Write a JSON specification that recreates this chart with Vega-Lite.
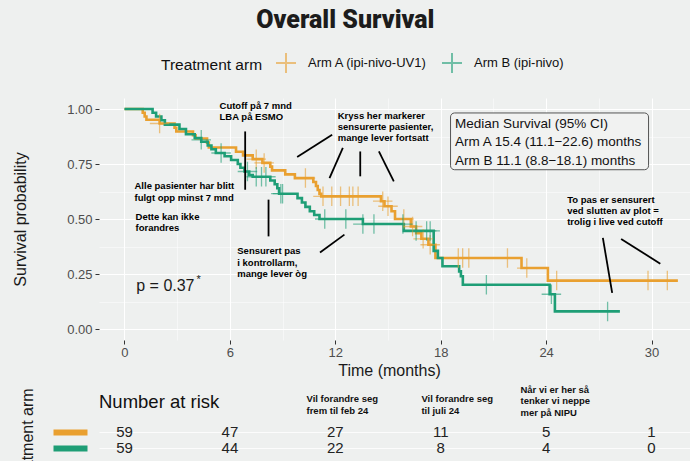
{
  "$schema": "https://vega.github.io/schema/vega-lite/v6.json",
  "background": "#EEF0EF",
  "padding": {"left": 12, "top": 8, "right": 0, "bottom": 0},
  "title": {"text": "Overall Survival", "font": "Roboto", "fontSize": 25, "fontWeight": 900, "color": "#1c1c1c", "anchor": "middle", "offset": 19, "dx": -6},
  "config": {
    "font": "Liberation Sans",
    "view": {"stroke": null},
    "axis": {"labelFont": "Liberation Sans", "titleFont": "Liberation Sans", "titleFontWeight": "normal"}
  },
  "datasets": {
    "km": [
      {"arm":"A","t":0,"surv":1},{"arm":"A","t":1.04,"surv":0.983},{"arm":"A","t":1.15,"surv":0.966},{"arm":"A","t":1.25,"surv":0.951},
      {"arm":"A","t":2.0,"surv":0.934},{"arm":"A","t":2.85,"surv":0.915},{"arm":"A","t":2.95,"surv":0.898},{"arm":"A","t":3.9,"surv":0.881},
      {"arm":"A","t":4.05,"surv":0.866},{"arm":"A","t":4.7,"surv":0.847},{"arm":"A","t":4.8,"surv":0.825},{"arm":"A","t":6.35,"surv":0.806},
      {"arm":"A","t":6.75,"surv":0.789},{"arm":"A","t":7.3,"surv":0.772},{"arm":"A","t":7.85,"surv":0.755},{"arm":"A","t":8.3,"surv":0.738},
      {"arm":"A","t":8.4,"surv":0.721},{"arm":"A","t":9.15,"surv":0.703},{"arm":"A","t":9.7,"surv":0.686},{"arm":"A","t":10.75,"surv":0.668},
      {"arm":"A","t":10.9,"surv":0.65},{"arm":"A","t":11.0,"surv":0.632},{"arm":"A","t":11.1,"surv":0.614},{"arm":"A","t":11.2,"surv":0.603},
      {"arm":"A","t":14.6,"surv":0.581},{"arm":"A","t":14.8,"surv":0.558},{"arm":"A","t":15.2,"surv":0.535},{"arm":"A","t":15.4,"surv":0.5},
      {"arm":"A","t":16.3,"surv":0.466},{"arm":"A","t":16.6,"surv":0.436},{"arm":"A","t":16.9,"surv":0.41},{"arm":"A","t":17.3,"surv":0.383},
      {"arm":"A","t":17.7,"surv":0.323},{"arm":"A","t":22.6,"surv":0.277},{"arm":"A","t":24.1,"surv":0.22},{"arm":"A","t":31.5,"surv":0.22},
      {"arm":"B","t":0,"surv":1},{"arm":"B","t":1.6,"surv":0.983},{"arm":"B","t":1.8,"surv":0.966},{"arm":"B","t":2.1,"surv":0.949},
      {"arm":"B","t":2.3,"surv":0.929},{"arm":"B","t":3.13,"surv":0.909},{"arm":"B","t":3.5,"surv":0.885},{"arm":"B","t":4.0,"surv":0.868},
      {"arm":"B","t":4.37,"surv":0.851},{"arm":"B","t":4.74,"surv":0.834},{"arm":"B","t":4.95,"surv":0.817},{"arm":"B","t":5.2,"surv":0.8},
      {"arm":"B","t":5.7,"surv":0.785},{"arm":"B","t":6.07,"surv":0.768},{"arm":"B","t":6.45,"surv":0.75},{"arm":"B","t":6.6,"surv":0.733},
      {"arm":"B","t":6.83,"surv":0.716},{"arm":"B","t":7.1,"surv":0.7},{"arm":"B","t":7.3,"surv":0.692},{"arm":"B","t":8.3,"surv":0.675},
      {"arm":"B","t":8.55,"surv":0.658},{"arm":"B","t":8.7,"surv":0.64},{"arm":"B","t":8.8,"surv":0.615},{"arm":"B","t":9.85,"surv":0.595},
      {"arm":"B","t":10.1,"surv":0.575},{"arm":"B","t":10.3,"surv":0.555},{"arm":"B","t":10.55,"surv":0.535},{"arm":"B","t":10.8,"surv":0.518},
      {"arm":"B","t":11.1,"surv":0.5},{"arm":"B","t":13.57,"surv":0.477},{"arm":"B","t":15.9,"surv":0.446},{"arm":"B","t":17.6,"surv":0.355},
      {"arm":"B","t":17.84,"surv":0.323},{"arm":"B","t":18.1,"surv":0.285},{"arm":"B","t":19.05,"surv":0.262},{"arm":"B","t":19.15,"surv":0.24},
      {"arm":"B","t":19.26,"surv":0.201},{"arm":"B","t":24.2,"surv":0.158},{"arm":"B","t":24.5,"surv":0.08},{"arm":"B","t":28.2,"surv":0.08}
    ],
    "censor": [
      {"arm":"A","t":2.0,"surv":0.934},{"arm":"A","t":7.5,"surv":0.772},{"arm":"A","t":7.95,"surv":0.755},{"arm":"A","t":10.3,"surv":0.686},
      {"arm":"A","t":11.3,"surv":0.603},{"arm":"A","t":11.8,"surv":0.603},{"arm":"A","t":12.3,"surv":0.603},{"arm":"A","t":12.8,"surv":0.603},
      {"arm":"A","t":13.0,"surv":0.603},{"arm":"A","t":13.3,"surv":0.603},{"arm":"A","t":14.7,"surv":0.581},{"arm":"A","t":15.0,"surv":0.558},
      {"arm":"A","t":15.9,"surv":0.5},{"arm":"A","t":16.4,"surv":0.466},{"arm":"A","t":17.0,"surv":0.41},{"arm":"A","t":17.4,"surv":0.383},
      {"arm":"A","t":19.0,"surv":0.323},{"arm":"A","t":19.25,"surv":0.323},{"arm":"A","t":19.6,"surv":0.323},{"arm":"A","t":21.8,"surv":0.323},
      {"arm":"A","t":22.9,"surv":0.277},{"arm":"A","t":24.6,"surv":0.22},{"arm":"A","t":29.8,"surv":0.22},{"arm":"A","t":30.9,"surv":0.22},
      {"arm":"B","t":4.37,"surv":0.86},{"arm":"B","t":5.5,"surv":0.8},{"arm":"B","t":7.0,"surv":0.716},{"arm":"B","t":7.5,"surv":0.692},
      {"arm":"B","t":7.8,"surv":0.692},{"arm":"B","t":8.05,"surv":0.692},{"arm":"B","t":8.9,"surv":0.615},{"arm":"B","t":9.0,"surv":0.615},
      {"arm":"B","t":11.4,"surv":0.5},{"arm":"B","t":12.6,"surv":0.5},{"arm":"B","t":13.57,"surv":0.477},{"arm":"B","t":14.2,"surv":0.477},
      {"arm":"B","t":15.85,"surv":0.477},{"arm":"B","t":16.6,"surv":0.446},{"arm":"B","t":17.2,"surv":0.446},{"arm":"B","t":17.4,"surv":0.446},
      {"arm":"B","t":20.6,"surv":0.201},{"arm":"B","t":24.3,"surv":0.158},{"arm":"B","t":27.5,"surv":0.08}
    ],
    "notes": [
      {"t":5.41,"surv":1.015,"text":"Cutoff på 7 mnd\nLBA på ESMO"},
      {"t":12.14,"surv":0.97,"text":"Kryss her markerer\nsensurerte pasienter,\nmange lever fortsatt"},
      {"t":0.57,"surv":0.648,"text":"Alle pasienter har blitt\nfulgt opp minst 7 mnd"},
      {"t":0.63,"surv":0.509,"text":"Dette kan ikke\nforandres"},
      {"t":6.42,"surv":0.353,"text":"Sensurert pas\ni kontrollarm,\nmange lever òg"},
      {"t":25.2,"surv":0.588,"text":"To pas er sensurert\nved slutten av plot =\ntrolig i live ved cutoff"}
    ],
    "segments": [
      {"t":6.87,"surv":0.898,"t2":6.87,"surv2":0.633},
      {"t":8.2,"surv":0.588,"t2":8.2,"surv2":0.421},
      {"t":9.83,"surv":0.782,"t2":11.82,"surv2":0.883},
      {"t":11.67,"surv":0.686,"t2":12.43,"surv2":0.823},
      {"t":13.42,"surv":0.807,"t2":13.42,"surv2":0.694},
      {"t":14.48,"surv":0.807,"t2":15.33,"surv2":0.671},
      {"t":11.13,"surv":0.348,"t2":12.52,"surv2":0.429},
      {"t":27.23,"surv":0.414,"t2":27.76,"surv2":0.164},
      {"t":28.27,"surv":0.409,"t2":30.5,"surv2":0.297}
    ],
    "box": [
      {"t":18.56,"surv":0.982,"t2":29.83,"surv2":0.724}
    ],
    "boxText": [
      {"t":18.81,"surv":0.932,"text":"Median Survival (95% CI)\nArm A 15.4 (11.1−22.6) months\nArm B 11.1 (8.8−18.1) months"}
    ],
    "pval": [
      {"t":0.67,"surv":0.194,"text":"p = 0.37"}
    ],
    "pstar": [
      {"t":4.1,"surv":0.222,"text":"*"}
    ],
    "risk": [
      {"arm":"A","row":2,"t":0,"n":59},{"arm":"A","row":2,"t":6,"n":47},{"arm":"A","row":2,"t":12,"n":27},
      {"arm":"A","row":2,"t":18,"n":11},{"arm":"A","row":2,"t":24,"n":5},{"arm":"A","row":2,"t":30,"n":1},
      {"arm":"B","row":1,"t":0,"n":59},{"arm":"B","row":1,"t":6,"n":44},{"arm":"B","row":1,"t":12,"n":22},
      {"arm":"B","row":1,"t":18,"n":8},{"arm":"B","row":1,"t":24,"n":4},{"arm":"B","row":1,"t":30,"n":0}
    ],
    "riskNotes": [
      {"t":10.36,"row":4.0,"text":"Vil forandre seg\nfrem til feb 24"},
      {"t":16.9,"row":4.0,"text":"Vil forandre seg\ntil juli 24"},
      {"t":22.54,"row":4.57,"text":"Når vi er her så\ntenker vi neppe\nmer på NIPU"}
    ],
    "riskTitle": [
      {"t":-1.45,"row":3.84,"text":"Number at risk"}
    ]
  },
  "resolve": {"scale": {"x": "independent", "y": "independent"}},
  "spacing": 5,
  "vconcat": [
    {
      "width": 591,
      "height": 242,
      "encoding": {
        "x": {"field": "t", "type": "quantitative", "scale": {"domain": [-1.45, 32.19], "nice": false, "zero": false},
          "axis": {"values": [0,3,6,9,12,15,18,21,24,27,30], "labelExpr": "datum.value % 6 === 0 ? datum.label : ''",
            "title": "Time (months)", "titleFontSize": 16, "titleColor": "#1a1a1a", "titlePadding": 3, "titleX": 290,
            "labelFontSize": 13, "labelColor": "#4D4D4D", "labelPadding": 2, "tickSize": 4,
            "tickColor": {"condition": {"test": "datum.value % 6 !== 0", "value": "transparent"}, "value": "#333333"},
            "domain": false, "grid": true, "gridColor": "#FFFFFF",
            "gridWidth": {"condition": {"test": "datum.value % 6 !== 0", "value": 0.5}, "value": 1.1}}},
        "y": {"field": "surv", "type": "quantitative", "scale": {"domain": [-0.05, 1.05], "nice": false, "zero": false},
          "axis": {"values": [0,0.125,0.25,0.375,0.5,0.625,0.75,0.875,1], "labelExpr": "(datum.value * 4) % 1 === 0 ? format(datum.value, '.2f') : ''",
            "title": "Survival probability", "titleFontSize": 16, "titleColor": "#1a1a1a", "titlePadding": 38,
            "labelFontSize": 13, "labelColor": "#4D4D4D", "labelPadding": 3, "tickSize": 4,
            "tickColor": {"condition": {"test": "(datum.value * 4) % 1 !== 0", "value": "transparent"}, "value": "#333333"},
            "domain": false, "grid": true, "gridColor": "#FFFFFF",
            "gridWidth": {"condition": {"test": "(datum.value * 4) % 1 !== 0", "value": 0.5}, "value": 1.1}}}
      },
      "layer": [
        {
          "data": {"name": "km"},
          "mark": {"type": "line", "interpolate": "step-after", "strokeWidth": 2.6},
          "encoding": {
            "color": {"field": "arm", "type": "nominal",
              "scale": {"domain": ["A", "B"], "range": ["#E9A030", "#1E9E76"]},
              "legend": {"orient": "none", "direction": "horizontal", "legendX": 62, "legendY": -46,
                "title": "Treatment arm", "titleOrient": "left", "titleFontSize": 15.5, "titleFontWeight": "normal", "titleColor": "#111111", "titlePadding": 12,
                "labelExpr": "datum.value === 'A' ? 'Arm A (ipi-nivo-UV1)' : 'Arm B (ipi-nivo)'",
                "labelFontSize": 13, "labelColor": "#111111", "labelOffset": 11, "columnPadding": 10,
                "symbolType": "M-1,0L1,0M0,-1L0,1", "symbolSize": 400, "symbolStrokeWidth": 2, "symbolFillColor": "transparent"}}
          }
        },
        {
          "data": {"name": "censor"},
          "mark": {"type": "point", "shape": "M-1,0L1,0M0,-1L0,1", "filled": false, "size": 380, "strokeWidth": 1.3, "opacity": 0.6},
          "encoding": {"color": {"field": "arm", "type": "nominal"}}
        },
        {
          "data": {"name": "segments"},
          "mark": {"type": "rule", "color": "#000000", "strokeWidth": 1.8},
          "encoding": {"x2": {"field": "t2"}, "y2": {"field": "surv2"}}
        },
        {
          "data": {"name": "box"},
          "mark": {"type": "rect", "fill": "#F1F2F1", "stroke": "#555555", "strokeWidth": 1, "cornerRadius": 4},
          "encoding": {"x2": {"field": "t2"}, "y2": {"field": "surv2"}}
        },
        {
          "data": {"name": "boxText"},
          "mark": {"type": "text", "align": "left", "baseline": "middle", "fontSize": 13.5, "color": "#111111", "lineBreak": "\n", "lineHeight": 18.3},
          "encoding": {"text": {"field": "text"}}
        },
        {
          "data": {"name": "notes"},
          "mark": {"type": "text", "align": "left", "baseline": "middle", "fontSize": 9.5, "fontWeight": "bold", "color": "#000000", "lineBreak": "\n", "lineHeight": 11.2},
          "encoding": {"text": {"field": "text"}}
        },
        {
          "data": {"name": "pval"},
          "mark": {"type": "text", "align": "left", "baseline": "middle", "fontSize": 16, "color": "#1a1a1a"},
          "encoding": {"text": {"field": "text"}}
        },
        {
          "data": {"name": "pstar"},
          "mark": {"type": "text", "align": "left", "baseline": "middle", "fontSize": 11, "color": "#1a1a1a"},
          "encoding": {"text": {"field": "text"}}
        }
      ]
    },
    {
      "width": 591,
      "height": 78,
      "encoding": {
        "x": {"field": "t", "type": "quantitative", "scale": {"domain": [-1.45, 32.19], "nice": false, "zero": false}, "axis": null},
        "y": {"field": "row", "type": "quantitative", "scale": {"domain": [0.2, 5.0], "nice": false, "zero": false},
          "axis": {"values": [1, 2], "labels": false, "offset": 12, "tickSize": 34, "tickWidth": 6, "tickCap": "butt",
            "tickColor": {"condition": {"test": "datum.value === 2", "value": "#E9A030"}, "value": "#1E9E76"},
            "domain": false, "grid": true, "gridColor": "#FFFFFF", "gridWidth": 0.8,
            "title": "Treatment arm", "titleFontSize": 16, "titleColor": "#1a1a1a", "titlePadding": 15, "titleY": 57}}
      },
      "layer": [
        {
          "data": {"name": "risk"},
          "mark": {"type": "text", "fontSize": 15, "color": "#222222", "baseline": "middle"},
          "encoding": {"text": {"field": "n"}}
        },
        {
          "data": {"name": "riskNotes"},
          "mark": {"type": "text", "align": "left", "baseline": "middle", "fontSize": 9.5, "fontWeight": "bold", "color": "#111111", "lineBreak": "\n", "lineHeight": 11.5},
          "encoding": {"text": {"field": "text"}}
        },
        {
          "data": {"name": "riskTitle"},
          "mark": {"type": "text", "align": "left", "baseline": "middle", "fontSize": 18.5, "color": "#111111"},
          "encoding": {"text": {"field": "text"}}
        }
      ]
    }
  ]
}
